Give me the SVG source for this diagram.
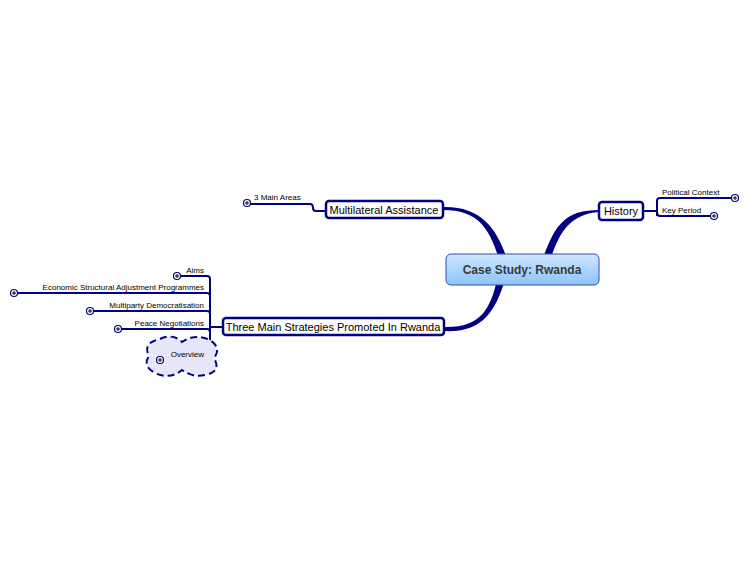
<svg xmlns="http://www.w3.org/2000/svg" width="750" height="563" viewBox="0 0 750 563">
<defs>
<style>
.t{font-family:"Liberation Sans",Arial,sans-serif;fill:#000}
.box{fill:#fff;stroke:#000080;stroke-width:2.5}
.ln{fill:none;stroke:#000080;stroke-width:2}
.pc{fill:#fff;stroke:#000080;stroke-width:1.2}
.sh{fill:none;stroke:#c8c8e8;stroke-width:3}
</style>
<linearGradient id="cg" x1="0" y1="0" x2="0" y2="1"><stop offset="0" stop-color="#cfe6ff"/><stop offset="1" stop-color="#8cc4fb"/></linearGradient>
<g id="plus"><circle r="3.5" class="pc"/><path d="M-2,0H2M0,-2V2" stroke="#000" stroke-width="1"/></g>
</defs>
<g id="connectors">
<path d="M443,210 C480,210 490,230 500,262 L508,262 C498,230 482,206 443,207Z" fill="#000080"/>
<path d="M599,210 C565,210 555,225 543,258 L551,258 C560,230 572,214 599,212Z" fill="#000080"/>
<path d="M444,327 C480,328 490,310 497,280 L505,280 C495,312 482,333 444,331Z" fill="#000080"/>
<path d="M643,211 H657 M657,216 V201 Q657,198 660,198 H735 M657,211 Q657,216 660,216 H714" class="ln"/>
<path d="M326,211 H316 Q313,211 313,208 Q313,204 310,204 H247" class="ln"/>
<path d="M223,327 H210 M177,276 H207 Q210,276 210,279 V357 Q210,360 207,360 H160 M14,293 H207 Q210,293 210,296 M90,311 H207 Q210,311 210,314 M118,329 H207 Q210,329 210,332" class="ln"/>
</g>
<g id="central">
<rect x="446" y="254" width="153" height="31" rx="5" fill="url(#cg)" stroke="#2e4fa8" stroke-width="1"/>
<text x="522" y="274" text-anchor="middle" class="t" font-size="12" font-weight="bold" fill="#333" style="fill:#3a3a3a">Case Study: Rwanda</text>
</g>
<g id="history">
<rect x="599" y="202" width="44" height="18" rx="3" class="box"/>
<text x="621" y="215" text-anchor="middle" class="t" font-size="11">History</text>
</g>
<g id="political"><text x="662" y="195" class="t" font-size="8">Political Context</text><use href="#plus" x="735" y="198"/></g>
<g id="keyperiod"><text x="662" y="213" class="t" font-size="8">Key Period</text><use href="#plus" x="714" y="216"/></g>
<g id="multilateral">
<rect x="326" y="201" width="117" height="17" rx="3" class="box"/>
<text x="384" y="214" text-anchor="middle" class="t" font-size="11">Multilateral Assistance</text>
</g>
<g id="mainareas"><text x="254" y="200" class="t" font-size="8">3 Main Areas</text><use href="#plus" x="247" y="203"/></g>
<g id="three">
<rect x="223" y="318" width="221" height="17" rx="3" class="box"/>
<text x="333" y="331" text-anchor="middle" class="t" font-size="11">Three Main Strategies Promoted In Rwanda</text>
</g>
<g id="aims"><text x="204" y="273" text-anchor="end" class="t" font-size="8">Aims</text><use href="#plus" x="177" y="276"/></g>
<g id="esap"><text x="204" y="290" text-anchor="end" class="t" font-size="8">Economic Structural Adjustment Programmes</text><use href="#plus" x="14" y="293"/></g>
<g id="multiparty"><text x="204" y="308" text-anchor="end" class="t" font-size="8">Multiparty Democratisation</text><use href="#plus" x="90" y="311"/></g>
<g id="peace"><text x="204" y="326" text-anchor="end" class="t" font-size="8">Peace Negotiations</text><use href="#plus" x="118" y="329"/></g>
<g id="overview">
<path d="M160,339 Q173,333 182,342 Q195,333 210,340 Q222,348 214,358 Q222,372 205,375 Q193,378 182,370 Q170,380 155,373 Q142,366 149,356 Q142,343 160,339Z" fill="#e6e6f8" stroke="#000080" stroke-width="2" stroke-dasharray="7,4"/>
<text x="204" y="357" text-anchor="end" class="t" font-size="8">Overview</text><use href="#plus" x="160" y="360"/>
</g>
</svg>
